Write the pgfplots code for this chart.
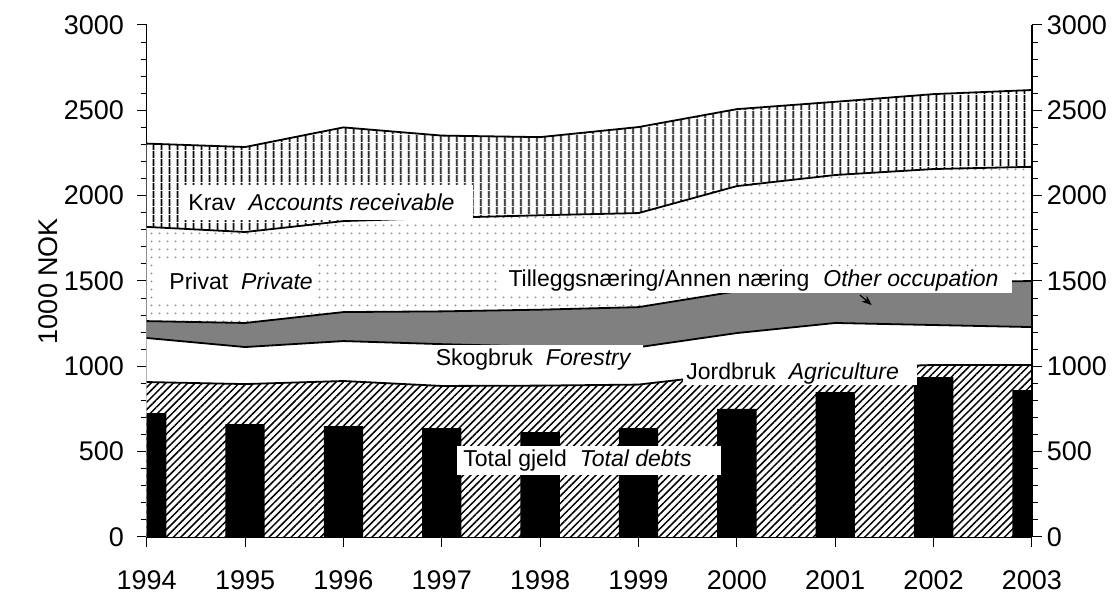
\documentclass[border=0pt]{standalone}
\usepackage{pgfplots}
\pgfplotsset{compat=1.18}
\usepackage{fontspec}
\setmainfont{Liberation Sans}
\usetikzlibrary{patterns.meta,arrows.meta}

\begin{document}
\begin{tikzpicture}
\tikzset{lbl/.style={anchor=west, fill=white, inner sep=0pt, font=\fontsize{11.5}{13}\selectfont}}
\pgfplotsset{
 base/.style={
  scale only axis, width=442.65pt, height=256pt,
  xmin=1994, xmax=2003, ymin=0, ymax=3000,
  ytick={0,500,...,3000}, minor y tick num=4,
  tick align=outside, major tick length=4.85pt, minor tick length=3pt,
  tick style={black, line width=0.5pt},
  /pgf/number format/1000 sep={},
  /pgf/number format/assume math mode=true,
  tick label style={font=\fontsize{13.5}{16}\selectfont},
  axis line style={line width=0.6pt},
 },
}
\begin{axis}[base, name=main,
  axis x line*=bottom, axis y line*=left,
  xtick={1994,...,2003},
  xticklabel style={yshift=-8.5pt},
  yticklabel style={xshift=-3pt},
  ylabel={1000 NOK},
  ylabel style={font=\fontsize{13.5}{16}\selectfont, at={(axis description cs:-0.111,0.5)}, anchor=center},
]
% Krav (accounts receivable) top
\addplot[fill=white, draw=none] coordinates {(1994,2305) (1995,2285) (1996,2400) (1997,2352) (1998,2343) (1999,2402) (2000,2507) (2001,2550) (2002,2595) (2003,2619)} \closedcycle;
\addplot[pattern={Lines[angle=90,distance=4pt,line width=1pt]}, draw=none] coordinates {(1994,2305) (1995,2285) (1996,2400) (1997,2352) (1998,2343) (1999,2402) (2000,2507) (2001,2550) (2002,2595) (2003,2619)} \closedcycle;
\addplot[black, line width=0.9pt] coordinates {(1994,2305) (1995,2285) (1996,2400) (1997,2352) (1998,2343) (1999,2402) (2000,2507) (2001,2550) (2002,2595) (2003,2619)};
% Private
\addplot[fill=white, draw=none] coordinates {(1994,1817) (1995,1787) (1996,1851) (1997,1870) (1998,1885) (1999,1898) (2000,2056) (2001,2121) (2002,2156) (2003,2169)} \closedcycle;
\addplot[pattern={Dots[distance=4pt,radius=0.55pt]}, pattern color=gray, draw=none] coordinates {(1994,1817) (1995,1787) (1996,1851) (1997,1870) (1998,1885) (1999,1898) (2000,2056) (2001,2121) (2002,2156) (2003,2169)} \closedcycle;
\addplot[black, line width=0.9pt] coordinates {(1994,1817) (1995,1787) (1996,1851) (1997,1870) (1998,1885) (1999,1898) (2000,2056) (2001,2121) (2002,2156) (2003,2169)};
% Other occupation
\addplot[fill=gray, draw=none] coordinates {(1994,1265) (1995,1254) (1996,1318) (1997,1322) (1998,1332) (1999,1347) (2000,1440) (2001,1460) (2002,1490) (2003,1500)} \closedcycle;
\addplot[black, line width=0.9pt] coordinates {(1994,1265) (1995,1254) (1996,1318) (1997,1322) (1998,1332) (1999,1347) (2000,1440) (2001,1460) (2002,1490) (2003,1500)};
% Forestry
\addplot[fill=white, draw=none] coordinates {(1994,1166) (1995,1113) (1996,1148) (1997,1130) (1998,1115) (1999,1112) (2000,1195) (2001,1254) (2002,1242) (2003,1230)} \closedcycle;
\addplot[black, line width=0.9pt] coordinates {(1994,1166) (1995,1113) (1996,1148) (1997,1130) (1998,1115) (1999,1112) (2000,1195) (2001,1254) (2002,1242) (2003,1230)};
% Agriculture
\addplot[fill=white, draw=none] coordinates {(1994,908) (1995,896) (1996,914) (1997,885) (1998,887) (1999,893) (2000,960) (2001,990) (2002,1008) (2003,1008)} \closedcycle;
\addplot[pattern={Lines[angle=45,distance=2.6pt,line width=0.75pt]}, draw=none] coordinates {(1994,908) (1995,896) (1996,914) (1997,885) (1998,887) (1999,893) (2000,960) (2001,990) (2002,1008) (2003,1008)} \closedcycle;
\addplot[black, line width=0.9pt] coordinates {(1994,908) (1995,896) (1996,914) (1997,885) (1998,887) (1999,893) (2000,960) (2001,990) (2002,1008) (2003,1008)};
% Total debts bars
\addplot[ybar, bar width=0.4, fill=black, draw=none] coordinates {(1994,726) (1995,662) (1996,650) (1997,638) (1998,615) (1999,638) (2000,750) (2001,849) (2002,937) (2003,861)};
% labels
\node[lbl, minimum height=17.5pt] at (axis cs:1994.359,1960) {\hspace{3pt}\makebox[142.5pt][l]{Krav\hspace{6.5pt}\textit{Accounts receivable}}};
\node[lbl, minimum height=18.5pt] at (axis cs:1994.115,1497) {\hspace{5.5pt}\makebox[74pt][l]{Privat\hspace{6.5pt}\textit{Private}}};
\node[lbl, minimum height=12.5pt] at (axis cs:1997.593,1503) {\hspace{4pt}\makebox[251.5pt][l]{Tilleggsnæring/Annen næring\hspace{7pt}\textit{Other occupation}}};
\node[lbl, minimum height=15pt] at (axis cs:1996.864,1037) {\hspace{3.5pt}\makebox[103.5pt][l]{Skogbruk\hspace{6.5pt}\textit{Forestry}}};
\node[lbl, minimum height=11.5pt] at (axis cs:1999.452,958) {\hspace{1.5pt}\makebox[115.5pt][l]{Jordbruk\hspace{6.5pt}\textit{Agriculture}}};
\node[lbl, minimum height=14.5pt] at (axis cs:1997.154,448) {\hspace{3pt}\makebox[129pt][l]{Total gjeld\hspace{6.5pt}\textit{Total debts}}};
\draw[-{Stealth[length=5pt,width=4pt]}, line width=0.6pt] (axis cs:2001.25,1418) -- (axis cs:2001.37,1359);
\end{axis}
\begin{axis}[base,
  axis x line=none, axis y line*=right,
  xtick=\empty,
  yticklabel style={xshift=-1pt},
]
\end{axis}
\pgfresetboundingbox
\path[use as bounding box] (main.south west) ++(-73.35pt,-28pt) rectangle ++(558.5pt,296.5pt);
\end{tikzpicture}
\end{document}
